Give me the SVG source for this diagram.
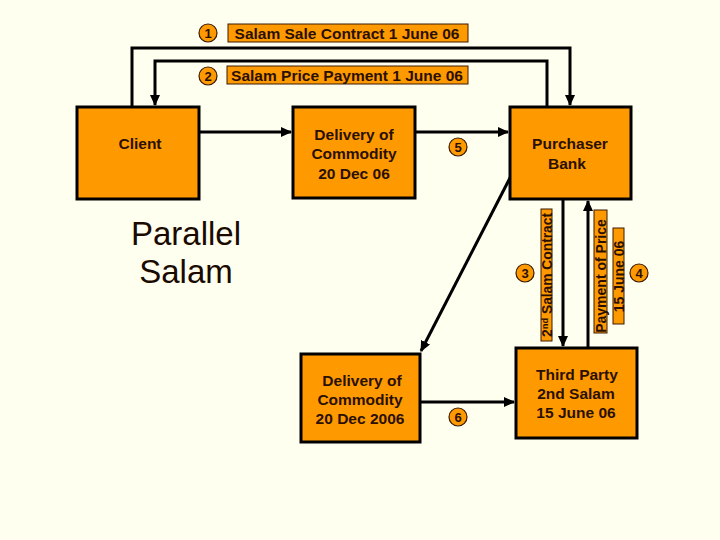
<svg xmlns="http://www.w3.org/2000/svg" width="720" height="540" viewBox="0 0 720 540">
<defs>
<marker id="ah" markerUnits="userSpaceOnUse" markerWidth="11" markerHeight="10" refX="10" refY="5" orient="auto">
<path d="M0,0 L11,5 L0,10 z" fill="#000"/>
</marker>
<style>
.box{fill:#FF9900;stroke:#000;stroke-width:3}
.lbl{fill:#FF9900;stroke:#3a1a00;stroke-width:1}
.t{font-family:"Liberation Sans",Arial,sans-serif;font-weight:bold;font-size:15.5px;fill:#2a1000;text-anchor:middle}
.c{fill:#FF9900;stroke:#3a1a00;stroke-width:1.2}
.n{font-family:"Liberation Sans",Arial,sans-serif;font-weight:bold;font-size:13px;fill:#2a1000;text-anchor:middle}
.ln{fill:none;stroke:#000;stroke-width:3}
.big{font-family:"Liberation Sans",Arial,sans-serif;font-size:33px;fill:#1a0a00;text-anchor:middle}
</style>
</defs>
<rect width="720" height="540" fill="#FFFFF0"/>

<g id="connectors">
<path class="ln" d="M132,107 V48 H570 V105" marker-end="url(#ah)"/>
<path class="ln" d="M547,107 V61 H155 V105" marker-end="url(#ah)"/>
<path class="ln" d="M199,132 H291" marker-end="url(#ah)"/>
<path class="ln" d="M415,132 H508" marker-end="url(#ah)"/>
<path class="ln" d="M512,174 L421,351" marker-end="url(#ah)"/>
<path class="ln" d="M563,199 V346" marker-end="url(#ah)"/>
<path class="ln" d="M588,348 V201" marker-end="url(#ah)"/>
<path class="ln" d="M420,402 H514" marker-end="url(#ah)"/>
</g>

<g id="label1">
<circle class="c" cx="208" cy="33" r="9"/>
<text class="n" x="208" y="37.7">1</text>
<rect class="lbl" x="228" y="24" width="240" height="18"/>
<text class="t" x="347" y="38.5">Salam Sale Contract 1 June 06</text>
</g>
<g id="label2">
<circle class="c" cx="208" cy="76" r="9"/>
<text class="n" x="208" y="80.7">2</text>
<rect class="lbl" x="227" y="66" width="241" height="18"/>
<text class="t" x="347" y="81">Salam Price Payment 1 June 06</text>
</g>

<g id="client">
<rect class="box" x="77" y="107" width="122" height="92"/>
<text class="t" x="140" y="148.5">Client</text>
</g>

<g id="delivery1">
<rect class="box" x="293" y="107" width="122" height="91"/>
<text class="t" x="354" y="139.5">Delivery of</text>
<text class="t" x="354" y="159">Commodity</text>
<text class="t" x="354" y="178.5">20 Dec 06</text>
</g>

<g id="bank">
<rect class="box" x="510" y="107" width="121" height="92"/>
<text class="t" x="570" y="148.5">Purchaser</text>
<text class="t" x="567" y="168.5">Bank</text>
</g>

<g id="delivery2">
<rect class="box" x="301" y="354" width="119" height="88"/>
<text class="t" x="362" y="386">Delivery of</text>
<text class="t" x="360" y="405">Commodity</text>
<text class="t" x="360" y="423.5">20 Dec 2006</text>
</g>

<g id="thirdparty">
<rect class="box" x="516" y="348" width="121" height="90"/>
<text class="t" x="577" y="379.5">Third Party</text>
<text class="t" x="576" y="398.5">2nd Salam</text>
<text class="t" x="576" y="417.5">15 June 06</text>
</g>

<g id="title">
<text class="big" x="186" y="245">Parallel</text>
<text class="big" x="186" y="283">Salam</text>
</g>

<g id="step5">
<circle class="c" cx="458" cy="147" r="9"/>
<text class="n" x="458" y="151.7">5</text>
</g>
<g id="step6">
<circle class="c" cx="458" cy="417" r="9"/>
<text class="n" x="458" y="421.7">6</text>
</g>
<g id="step3">
<circle class="c" cx="525" cy="273" r="9"/>
<text class="n" x="525" y="277.7">3</text>
<rect class="lbl" x="541" y="209" width="11" height="132"/>
<text class="t" style="font-size:14px" transform="translate(546.5,275) rotate(-90)" x="0" y="5" textLength="124" lengthAdjust="spacingAndGlyphs">2<tspan font-size="9.5" dy="-4">nd</tspan><tspan dy="4"> Salam Contract</tspan></text>
</g>
<g id="step4">
<rect class="lbl" x="594" y="210" width="13" height="123"/>
<text class="t" style="font-size:14px" transform="translate(600.5,276) rotate(-90)" x="0" y="5">Payment of Price</text>
<rect class="lbl" x="613" y="228" width="11" height="96"/>
<text class="t" style="font-size:14px" transform="translate(618.5,276.5) rotate(-90)" x="0" y="5">15 June 06</text>
<circle class="c" cx="639" cy="273" r="9"/>
<text class="n" x="639" y="277.7">4</text>
</g>
</svg>
